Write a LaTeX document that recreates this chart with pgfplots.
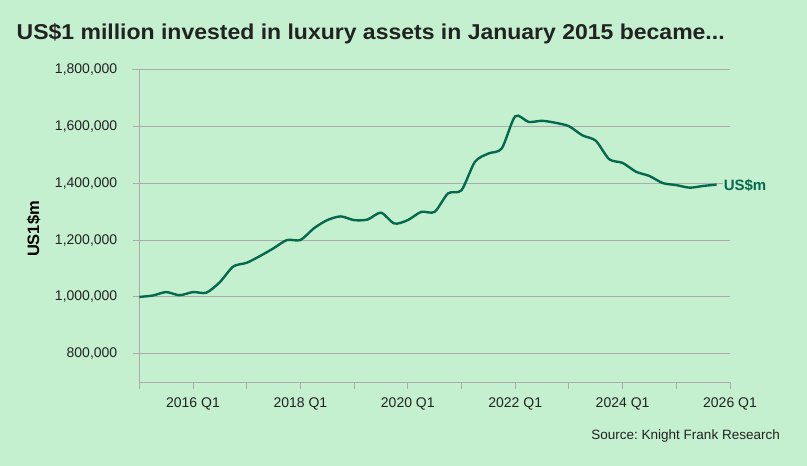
\documentclass[border=0pt]{standalone}
\usepackage{pgfplots}
\pgfplotsset{compat=1.18}
\usepackage{fontspec}
\setmainfont{Liberation Sans}
\usepackage{graphicx}
\frenchspacing
\definecolor{bgc}{HTML}{C4F0CF}
\definecolor{linec}{HTML}{056A4D}
\definecolor{gridc}{HTML}{ABABAB}
\definecolor{txtc}{HTML}{222222}
\begin{document}
\begin{tikzpicture}
\fill[bgc] (0,0) rectangle (807pt,466pt);
\useasboundingbox (0,0) rectangle (807pt,466pt);
\node[anchor=base west, inner sep=0pt, text=txtc] at (16.5pt,426pt)
  {\resizebox{708pt}{\height}{\fontsize{21.5}{24}\selectfont\bfseries US\$1 million invested in luxury assets in January 2015 became...}};
\node[anchor=base east, inner sep=0pt, text=txtc, font=\fontsize{13.5}{15}\selectfont] at (780pt,26pt) {Source: Knight Frank Research};
\node[rotate=90, inner sep=0pt, text=black, font=\fontsize{16.5}{18}\selectfont\bfseries] at (33.5pt,237pt) {US1\$m};
\begin{axis}[
  at={(139.3pt,83.7pt)}, anchor=south west,
  scale only axis, width=590.7pt, height=313pt,
  xmin=0, xmax=44, ymin=700000, ymax=1800000,
  axis x line=bottom, axis y line=left,
  axis line style={-, draw=gridc, line width=0.9pt},
  xtick={0,4,...,44},
  xticklabels={,2016 Q1,,2018 Q1,,2020 Q1,,2022 Q1,,2024 Q1,,2026 Q1},
  ytick={800000,1000000,1200000,1400000,1600000,1800000},
  scaled y ticks=false,
  ticklabel style={font=\fontsize{14}{16}\selectfont, text=txtc},
  yticklabel style={xshift=-12pt, /pgf/number format/.cd, fixed, precision=0, 1000 sep={,}},
  xticklabel style={yshift=-5pt},
  /pgf/number format/assume math mode=true,
  xtick align=outside, ytick align=outside,
  xtick style={draw=gridc, line width=0.9pt},
  ytick style={draw=gridc, line width=0.9pt},
  major tick length=6.5pt,
  ymajorgrids, grid style={draw=gridc, line width=0.9pt, shorten <=-7pt},
  clip=false,
]
\addplot[linec, line width=2.4pt, smooth, tension=0.45] coordinates {
(0,1000000) (1,1005000) (2,1017000) (3,1006000) (4,1017000) (5,1015000)
(6,1052000) (7,1107000) (8,1120000) (9,1144000) (10,1171000) (11,1200000)
(12,1200000) (13,1241000) (14,1270000) (15,1283000) (16,1270000) (17,1272000)
(18,1296000) (19,1258000) (20,1270000) (21,1299000) (22,1299000) (23,1364000)
(24,1375000) (25,1475000) (26,1504000) (27,1522000) (28,1635000) (29,1615000)
(30,1619000) (31,1612000) (32,1600000) (33,1568000) (34,1549000) (35,1484000)
(36,1471000) (37,1440000) (38,1425000) (39,1400000) (40,1393000) (41,1384000)
(42,1390000) (43,1395000)
};
\node[anchor=west, fill=bgc, inner sep=1pt, text=linec, font=\fontsize{15}{17}\selectfont\bfseries] at (axis cs:43,1393000) [xshift=6pt] {US\$m};
\end{axis}
\end{tikzpicture}
\end{document}
